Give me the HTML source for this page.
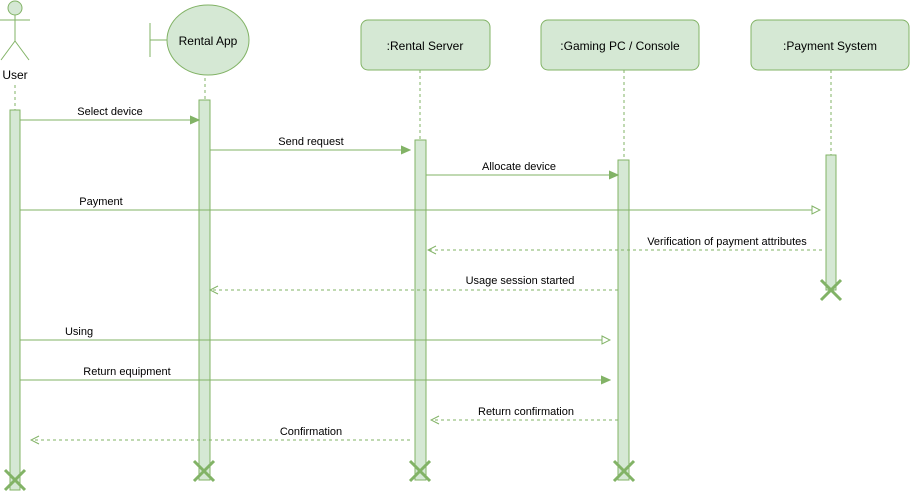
<!DOCTYPE html>
<html><head><meta charset="utf-8"><style>body{margin:0;background:#fff}svg{display:block}text{font-family:"Liberation Sans",Arial,sans-serif;fill:#000}</style></head><body>
<svg width="911" height="492" viewBox="0 0 911 492">
<defs>
<marker id="fa" markerWidth="10" markerHeight="10" refX="9" refY="5" orient="auto" markerUnits="userSpaceOnUse"><path d="M0,1 L9,5 L0,9 Z" fill="#82b366" stroke="#82b366"/></marker>
<marker id="oa" markerWidth="10" markerHeight="10" refX="9" refY="5" orient="auto" markerUnits="userSpaceOnUse"><path d="M1,1 L9,5 L1,9 Z" fill="#fff" stroke="#82b366"/></marker>
<marker id="la" markerWidth="10" markerHeight="10" refX="9" refY="5" orient="auto" markerUnits="userSpaceOnUse"><path d="M1,1 L9,5 L1,9" fill="none" stroke="#82b366"/></marker>
</defs>
<g stroke="#82b366" fill="#d5e8d4">
<!-- actor -->
<circle cx="15" cy="8" r="7"/>
<line x1="15" y1="15" x2="15" y2="41"/><line x1="0" y1="20" x2="30" y2="20"/>
<line x1="15" y1="41" x2="1" y2="60"/><line x1="15" y1="41" x2="29" y2="60"/>
<line x1="150" y1="23" x2="150" y2="57" fill="none"/><line x1="150" y1="40" x2="167" y2="40"/>
<ellipse cx="208" cy="40" rx="41" ry="35"/>
<rect x="361" y="20" width="129" height="50" rx="7"/>
<rect x="541" y="20" width="158" height="50" rx="7"/>
<rect x="751" y="20" width="158" height="50" rx="7"/>
<g stroke-dasharray="3,3" fill="none">
<line x1="15" y1="85" x2="15" y2="110"/><line x1="205" y1="78" x2="205" y2="100"/>
<line x1="420" y1="70" x2="420" y2="140"/><line x1="624" y1="70" x2="624" y2="160"/>
<line x1="831" y1="70" x2="831" y2="155"/>
</g>
<rect x="10" y="110" width="10" height="380"/>
<rect x="199" y="100" width="11" height="380"/>
<rect x="415" y="140" width="11" height="340"/>
<rect x="618" y="160" width="11" height="320"/>
<rect x="826" y="155" width="10" height="135"/>
<g stroke-width="3">
<path d="M5,470 L25,490 M25,470 L5,490"/>
<path d="M194,461 L214,481 M214,461 L194,481"/>
<path d="M410,461 L430,481 M430,461 L410,481"/>
<path d="M614,461 L634,481 M634,461 L614,481"/>
<path d="M821,280 L841,300 M841,280 L821,300"/>
</g>
<g fill="none">
<line x1="20" y1="120" x2="199" y2="120" marker-end="url(#fa)"/>
<line x1="210" y1="150" x2="410" y2="150" marker-end="url(#fa)"/>
<line x1="426" y1="175" x2="618" y2="175" marker-end="url(#fa)"/>
<line x1="20" y1="210" x2="820" y2="210" marker-end="url(#oa)"/>
<line x1="20" y1="340" x2="610" y2="340" marker-end="url(#oa)"/>
<line x1="20" y1="380" x2="610" y2="380" marker-end="url(#fa)"/>
<g stroke-dasharray="3,3">
<line x1="822" y1="250" x2="428" y2="250" marker-end="url(#la)"/>
<line x1="618" y1="290" x2="210" y2="290" marker-end="url(#la)"/>
<line x1="618" y1="420" x2="431" y2="420" marker-end="url(#la)"/>
<line x1="410" y1="440" x2="31" y2="440" marker-end="url(#la)"/>
</g>
</g>
</g>
<g font-size="12" text-anchor="middle">
<text x="15" y="79">User</text>
<text x="208" y="45">Rental App</text>
<text x="425" y="50">:Rental Server</text>
<text x="620" y="50">:Gaming PC / Console</text>
<text x="830" y="50">:Payment System</text>
</g>
<g font-size="11" text-anchor="middle">
<text x="110" y="115">Select device</text>
<text x="311" y="145">Send request</text>
<text x="519" y="170">Allocate device</text>
<text x="101" y="205">Payment</text>
<text x="727" y="245">Verification of payment attributes</text>
<text x="520" y="284">Usage session started</text>
<text x="79" y="335">Using</text>
<text x="127" y="375">Return equipment</text>
<text x="526" y="415">Return confirmation</text>
<text x="311" y="435">Confirmation</text>
</g>
</svg>
</body></html>
